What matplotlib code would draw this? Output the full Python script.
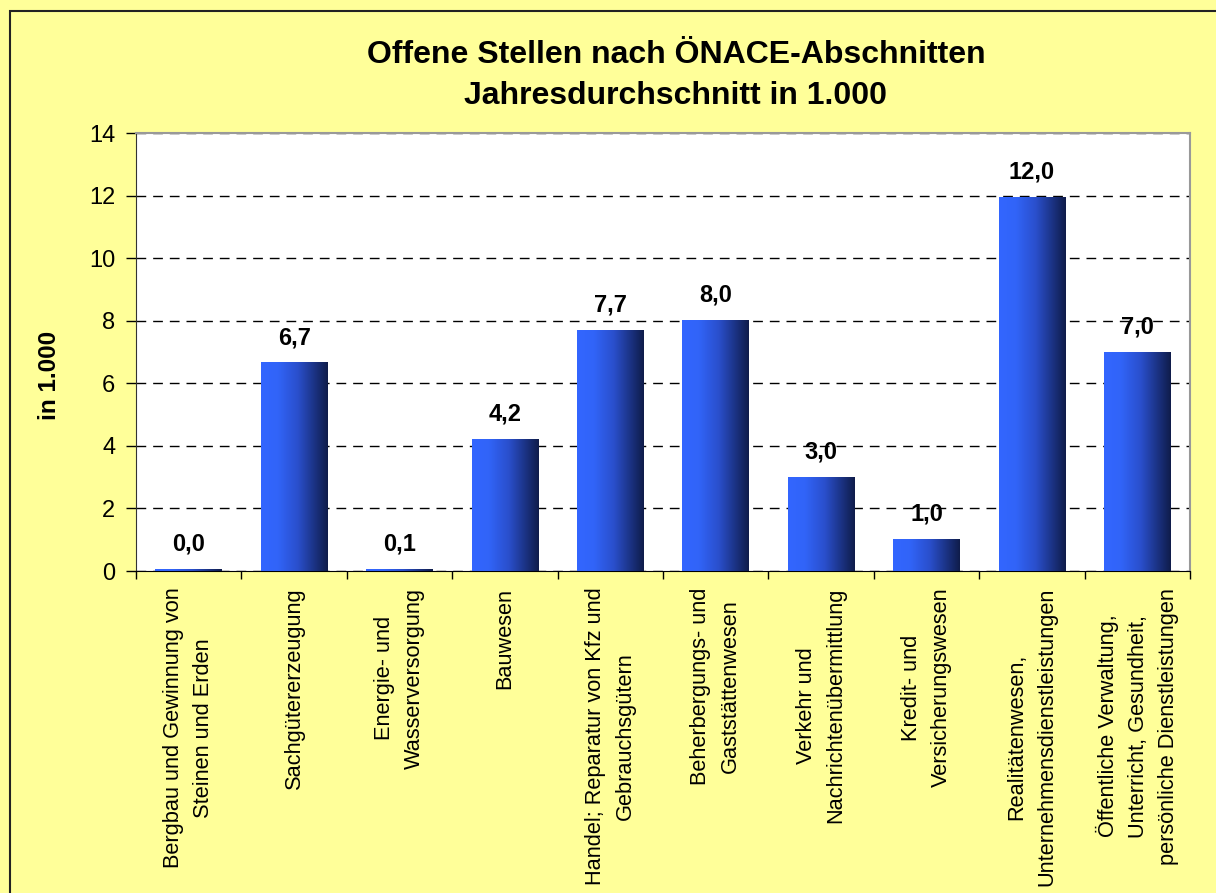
import numpy as np
import matplotlib
matplotlib.use("Agg")
import matplotlib.pyplot as plt
from matplotlib.colors import LinearSegmentedColormap
from matplotlib.patches import Rectangle

plt.rcParams['font.family'] = ['Liberation Sans', 'DejaVu Sans']

# daten
kategorien = [
    "Bergbau und Gewinnung von\nSteinen und Erden",
    "Sachgütererzeugung",
    "Energie- und\nWasserversorgung",
    "Bauwesen",
    "Handel; Reparatur von Kfz und\nGebrauchsgütern",
    "Beherbergungs- und\nGaststättenwesen",
    "Verkehr und\nNachrichtenübermittlung",
    "Kredit- und\nVersicherungswesen",
    "Realitätenwesen,\nUnternehmensdienstleistungen",
    "Öffentliche Verwaltung,\nUnterricht, Gesundheit,\npersönliche Dienstleistungen",
]
werte = [0.04, 6.65, 0.06, 4.2, 7.7, 8.0, 3.0, 1.0, 11.95, 7.0]
werte_text = ["0,0", "6,7", "0,1", "4,2", "7,7", "8,0", "3,0", "1,0", "12,0", "7,0"]
y_ticks = [0, 2, 4, 6, 8, 10, 12, 14]

gelb = "#FFFF99"
fig = plt.figure(figsize=(12.16, 8.93), dpi=100, facecolor=gelb)
ax = fig.add_axes([136/1216, 1-571/893, (1190-136)/1216, (571-133)/893])
ax.set_facecolor("white")

# rahmen um das ganze diagramm
fig.patches.append(Rectangle((10/1216, -0.1), 1.2, 1-11/893+0.1, transform=fig.transFigure,
                             fill=False, edgecolor="#222222", linewidth=1.5, zorder=0))

n = len(werte)
x = np.arange(n)
breite = 0.63
cmap = LinearSegmentedColormap.from_list("blau", [(0, "#3366FF"), (0.25, "#3164F8"),
                                                   (0.55, "#2A4FCC"), (1, "#0F1C4A")])
grad = np.linspace(0, 1, 256).reshape(1, -1)

for i in range(n):
    ax.imshow(grad, cmap=cmap, aspect="auto", extent=(x[i]-breite/2, x[i]+breite/2, 0, werte[i]),
              zorder=3, interpolation="bilinear")
    ax.annotate(werte_text[i], (x[i], werte[i]), xytext=(0, 10), textcoords="offset points",
                ha="center", va="bottom", fontsize=17, fontweight="bold", zorder=4)

ax.set_xlim(-0.5, n-0.5)
ax.set_ylim(0, 14)
ax.set_yticks(y_ticks)
ax.tick_params(axis="y", labelsize=17, length=7, width=1, direction="out", pad=8)
ax.yaxis.grid(True, color="black", linestyle=(0, (7, 5)), linewidth=1, zorder=1)
ax.set_axisbelow(True)

# x ticks an den grenzen, labels in der mitte
ax.set_xticks(np.arange(n+1)-0.5)
ax.set_xticklabels([])
ax.tick_params(axis="x", length=6, width=1, direction="out")
ax.set_xticks(x, minor=True)
ax.set_xticklabels(kategorien, minor=True, rotation=90, ha="center", va="top",
                   multialignment="center", fontsize=15.7, linespacing=1.55)
ax.tick_params(axis="x", which="minor", length=0, pad=12)

ax.spines["left"].set_color("#333333")
ax.spines["bottom"].set_color("black")
ax.spines["top"].set_color("#999999")
ax.spines["right"].set_color("#999999")
ax.spines["top"].set_linewidth(1.5)
ax.spines["right"].set_linewidth(1.5)

fig.text(50/1216, 1-375/893, "in 1.000", rotation=90, ha="center", va="center",
         fontsize=17.5, fontweight="bold")

titel_font = ["Liberation Sans Narrow", "Liberation Sans", "DejaVu Sans"]
fig.text(676/1216, 1-55/893, "Offene Stellen nach ÖNACE-Abschnitten", ha="center", va="center",
         fontsize=23, fontweight="bold", family=titel_font)
fig.text(676/1216, 1-96/893, "Jahresdurchschnitt in 1.000", ha="center", va="center",
         fontsize=23, fontweight="bold", family=titel_font)

fig.savefig("out.png", dpi=100, facecolor=gelb)
